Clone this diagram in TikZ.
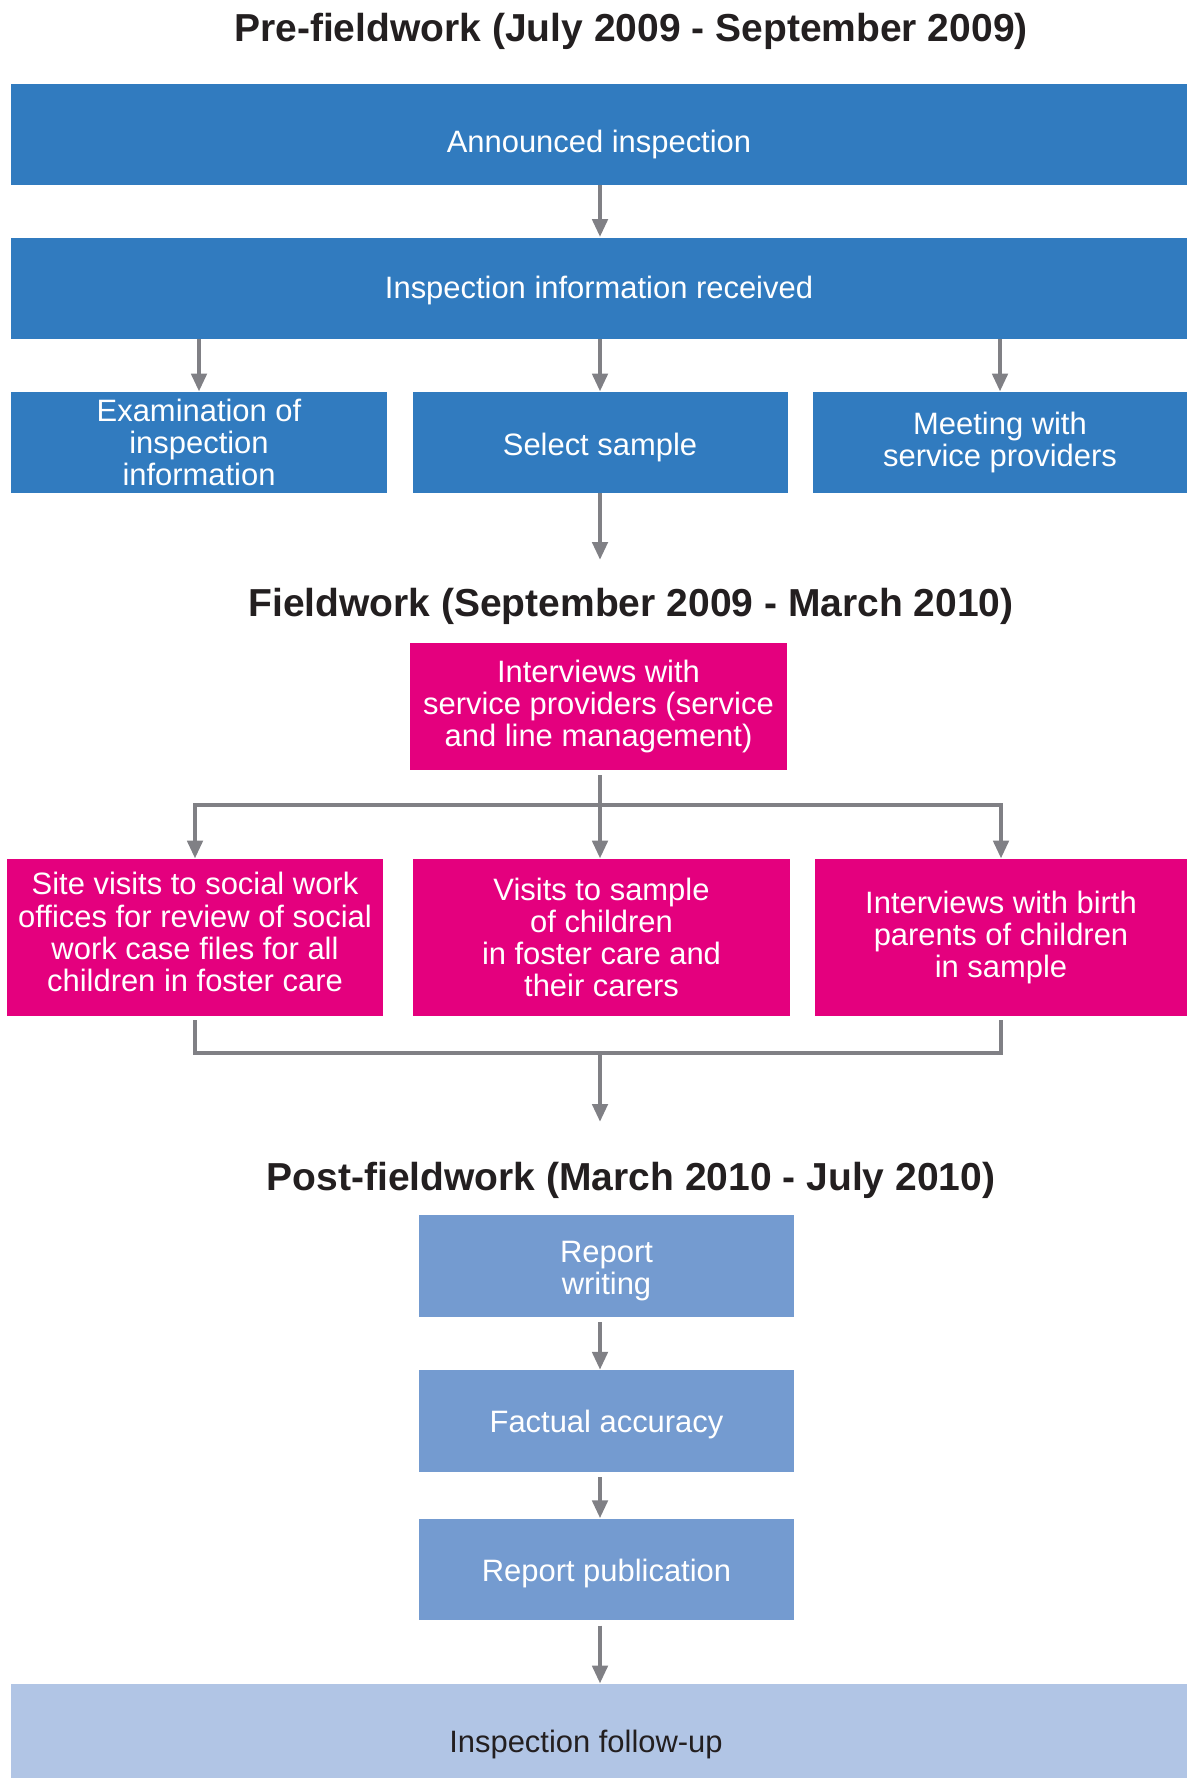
\documentclass[tikz,border=0pt]{standalone}
\usepackage{fontspec}
\setmainfont{Liberation Sans}
\usetikzlibrary{arrows.meta}
\definecolor{preblue}{RGB}{49,123,191}
\definecolor{fieldpink}{RGB}{228,0,126}
\definecolor{postblue}{RGB}{116,155,208}
\definecolor{followblue}{RGB}{177,197,229}
\definecolor{flowgrey}{RGB}{128,128,133}
\definecolor{headblack}{RGB}{35,31,32}
\tikzset{
    stage/.style={rectangle, draw=none, inner sep=0pt, align=center, text=white,
        font=\fontsize{17.6}{18.3}\selectfont},
    fullbox/.style={stage, minimum width=23.52cm, minimum height=2.02cm},
    thirdbox/.style={stage, minimum width=7.5cm, minimum height=2.02cm},
    pinkbox/.style={stage, fill=fieldpink, minimum width=7.52cm, minimum height=3.14cm},
    postbox/.style={stage, fill=postblue, minimum width=7.5cm, minimum height=2.03cm},
    heading/.style={text=headblack, font=\fontsize{22.2}{26}\selectfont\bfseries},
    flow/.style={draw=flowgrey, line width=2.6pt, -{Triangle[length=0.36cm,width=0.3cm]}},
    joint/.style={draw=flowgrey, line width=2.6pt},
}

\begin{document}
\begin{tikzpicture}
\useasboundingbox (0,0) rectangle (23.74,-35.56);

% Pre-fieldwork
\node[heading] (prehead) at (12.62,-0.63) {Pre-fieldwork (July 2009 - September 2009)};
\node[fullbox, fill=preblue, text height=0.85cm, text depth=0.13cm] (announced) at (11.98,-2.69) {Announced inspection};
\node[fullbox, fill=preblue, text height=0.55cm, text depth=0.13cm] (received) at (11.98,-5.76) {Inspection information received};
\node[thirdbox, fill=preblue, minimum width=7.52cm] (exam) at (3.98,-8.85) {Examination of\\inspection\\information};
\node[thirdbox, fill=preblue, text height=0.65cm, text depth=0.13cm] (sample) at (12,-8.85) {Select sample};
\node[thirdbox, fill=preblue] (meeting) at (20,-8.85) {Meeting with\\service providers};

\draw[flow] (announced.south -| sample) -- (received.north -| sample);
\draw[flow] (received.south -| exam) -- (exam.north);
\draw[flow] (received.south -| sample) -- (sample.north);
\draw[flow] (received.south -| meeting) -- (meeting.north);

\coordinate (fieldin) at (12,-11.2);
\draw[flow] (sample.south) -- (fieldin);

% Fieldwork
\node[heading] (fieldhead) at (12.62,-12.13) {Fieldwork (September 2009 - March 2010)};
\node[pinkbox, minimum width=7.54cm, minimum height=2.54cm] (talks) at (11.97,-14.13) {Interviews with\\service providers (service\\and line management)};
\node[pinkbox, text depth=0.22cm] (site) at (3.9,-18.75) {Site visits to social work\\offices for review of social\\work case files for all\\children in foster care};
\node[pinkbox, minimum width=7.54cm] (visits) at (12.03,-18.75) {Visits to sample\\of children\\in foster care and\\their carers};
\node[pinkbox, minimum width=7.44cm] (birth) at (20.02,-18.75) {Interviews with birth\\parents of children\\in sample};

% split
\coordinate (split) at (12,-16.1);
\draw[joint, shorten <=0.1cm] (talks.south -| split) -- (split);
\draw[flow] (split) -| (site.north);
\draw[flow] (split) -- (split |- visits.north);
\draw[flow] (split) -| (birth.north);

% merge
\coordinate (merge) at (12,-21.06);
\coordinate (postin) at (12,-22.44);
\draw[joint, shorten <=0.08cm] (site.south) |- (merge);
\draw[joint, shorten <=0.08cm] (birth.south) |- (merge);
\draw[flow] (merge) -- (postin);

% Post-fieldwork
\node[heading] (posthead) at (12.62,-23.61) {Post-fieldwork (March 2010 - July 2010)};
\node[postbox, text height=1.27cm] (writing) at (12.13,-25.32) {Report\\writing};
\node[postbox, text height=0.6cm, text depth=0.13cm] (accuracy) at (12.13,-28.42) {Factual accuracy};
\node[postbox, text height=0.6cm, text depth=0.13cm] (publish) at (12.13,-31.39) {Report publication};
\node[rectangle, fill=followblue, minimum width=23.52cm, minimum height=1.88cm] (followup) at (11.98,-34.62) {};
\node[text=headblack, font=\fontsize{17.6}{18.3}\selectfont] (followtext) at (11.72,-34.89) {Inspection follow-up};

\draw[flow, shorten <=0.1cm] (writing.south -| postin) -- (accuracy.north -| postin);
\draw[flow, shorten <=0.1cm] (accuracy.south -| postin) -- (publish.north -| postin);
\draw[flow, shorten <=0.1cm] (publish.south -| postin) -- (followup.north -| postin);

\end{tikzpicture}
\end{document}
